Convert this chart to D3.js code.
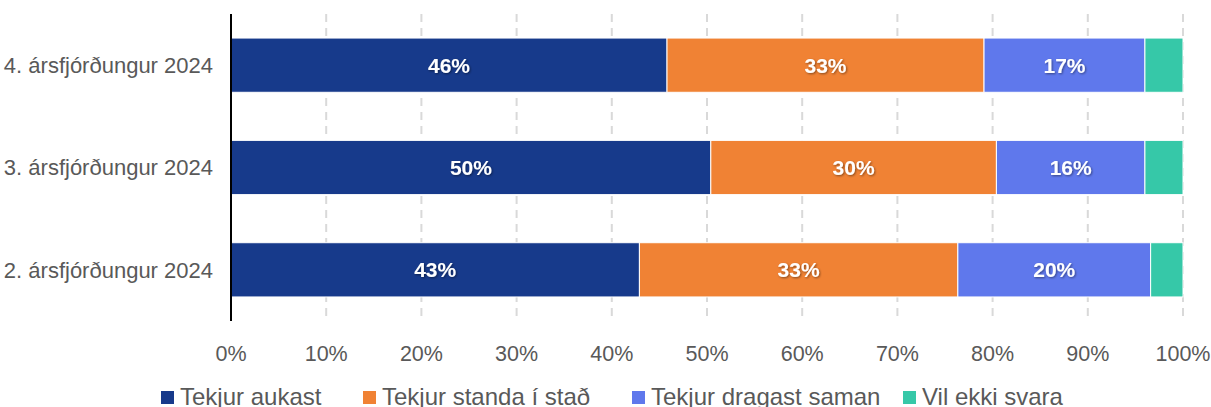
<!DOCTYPE html>
<html>
<head>
<meta charset="utf-8">
<script src="https://cdn.jsdelivr.net/npm/d3@7"></script>
<style>
	body { margin: 0; background: #fff; }
	svg { font-family: "Liberation Sans", Arial, sans-serif; display: block; }
</style>
</head>
<body>
<script>
const WIDTH = 1211;
const HEIGHT = 407;
const LEFT = 231;
const RIGHT = 1183;
const TOP = 14;
const BOTTOM = 321;

var categories = ['4. ársfjórðungur 2024', '3. ársfjórðungur 2024', '2. ársfjórðungur 2024'];
var seriesNames = ['Tekjur aukast', 'Tekjur standa í stað', 'Tekjur dragast saman', 'Vil ekki svara'];
var seriesColors = ['#173a8b', '#f08234', '#5f78ec', '#36c8a8'];
var aukast = [45.8, 50.4, 42.9];
var standa = [33.3, 30.0, 33.45];
var dragast = [16.9, 15.6, 20.25];
var vilEkki = [4.0, 4.0, 3.4];
var ticks = [0, 10, 20, 30, 40, 50, 60, 70, 80, 90, 100];

var rows = categories.map(function(c, i) {
	return { cat: c, vals: [aukast[i], standa[i], dragast[i], vilEkki[i]] };
});

var svg = d3.select('body').append('svg')
	.attr('width', WIDTH)
	.attr('height', HEIGHT);

var defs = svg.append('defs');
var f = defs.append('filter').attr('id', 'shadow').attr('x', '-20%').attr('y', '-20%').attr('width', '140%').attr('height', '140%');
f.append('feDropShadow').attr('dx', 1).attr('dy', 1).attr('stdDeviation', 1).attr('flood-color', '#000').attr('flood-opacity', 0.45);

var x = d3.scaleLinear().domain([0, 100]).range([LEFT, RIGHT]);
var y = d3.scaleBand().domain(categories).range([TOP, BOTTOM]).paddingInner(0.47).paddingOuter(0.235);

// grid
svg.append('g').selectAll('line')
	.data(ticks.slice(1))
	.enter().append('line')
	.attr('x1', function(d) { return x(d); })
	.attr('x2', function(d) { return x(d); })
	.attr('y1', TOP)
	.attr('y2', BOTTOM)
	.style('stroke', '#d9d9d9')
	.style('stroke-width', 2)
	.style('stroke-dasharray', '8,6');

// bars
var rowG = svg.append('g').selectAll('g')
	.data(rows)
	.enter().append('g')
	.attr('transform', function(d) { return 'translate(0,' + y(d.cat) + ')'; });

rowG.each(function(d) {
	var g = d3.select(this);
	var cum = 0;
	d.vals.forEach(function(v, j) {
		var x0 = x(cum), x1 = x(cum + v);
		g.append('rect')
			.attr('x', x0)
			.attr('y', 0)
			.attr('width', x1 - x0)
			.attr('height', y.bandwidth())
			.style('fill', seriesColors[j])
			.style('stroke', '#fff')
			.style('stroke-width', 1);
		if (j < 3) {
			g.append('text')
				.attr('x', (x0 + x1) / 2)
				.attr('y', y.bandwidth() / 2)
				.attr('dy', '0.35em')
				.attr('text-anchor', 'middle')
				.attr('filter', 'url(#shadow)')
				.style('fill', '#fff')
				.style('font-weight', 'bold')
				.style('font-size', '21px')
				.text(Math.round(v) + '%');
		}
		cum += v;
	});
});

// category labels
svg.append('g').selectAll('text')
	.data(categories)
	.enter().append('text')
	.attr('x', 213)
	.attr('y', function(d) { return y(d) + y.bandwidth() / 2; })
	.attr('dy', '0.35em')
	.attr('text-anchor', 'end')
	.style('fill', '#595959')
	.style('font-size', '22px')
	.text(function(d) { return d; });

// y axis line
svg.append('line')
	.attr('x1', LEFT).attr('x2', LEFT)
	.attr('y1', TOP).attr('y2', BOTTOM)
	.style('stroke', '#000')
	.style('stroke-width', 2);

// x tick labels
svg.append('g').selectAll('text')
	.data(ticks)
	.enter().append('text')
	.attr('x', function(d) { return x(d); })
	.attr('y', 353)
	.attr('dy', '0.35em')
	.attr('text-anchor', 'middle')
	.style('fill', '#595959')
	.style('font-size', '21.5px')
	.text(function(d) { return d + '%'; });

// legend
var legendX = [161, 363, 632, 903];
var leg = svg.append('g').selectAll('g')
	.data(seriesNames)
	.enter().append('g')
	.attr('transform', function(d, i) { return 'translate(' + legendX[i] + ',391)'; });

leg.append('rect')
	.attr('width', 13)
	.attr('height', 13)
	.style('fill', function(d, i) { return seriesColors[i]; });

leg.append('text')
	.attr('x', 19)
	.attr('y', 14)
	.style('fill', '#595959')
	.style('font-size', '24px')
	.text(function(d) { return d; });
</script>
</body>
</html>
